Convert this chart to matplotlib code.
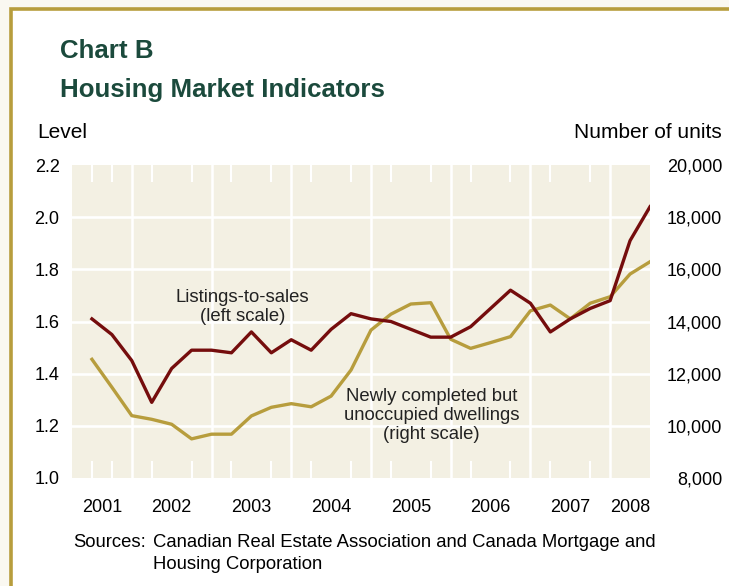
import numpy as np
import matplotlib
matplotlib.use("Agg")
import matplotlib.pyplot as plt
from matplotlib.patches import Rectangle

plt.rcParams['font.family'] = ['Liberation Sans', 'DejaVu Sans']

# quarterly data, 2001Q2 .. 2008Q2 (plotted at quarter end)
quarters = np.arange(2001.5, 2008.51, 0.25)
listings_to_sales = [1.61, 1.55, 1.45, 1.29, 1.42, 1.49, 1.49, 1.48, 1.56, 1.48,
                     1.53, 1.49, 1.57, 1.63, 1.61, 1.60, 1.57, 1.54, 1.54, 1.58,
                     1.65, 1.72, 1.67, 1.56, 1.61, 1.65, 1.68, 1.91, 2.04]
unoccupied = [12550, 11480, 10390, 10250, 10060, 9500, 9680, 9680, 10380, 10710,
              10850, 10730, 11140, 12140, 13670, 14280, 14670, 14720, 13320, 12970,
              13190, 13420, 14410, 14630, 14100, 14700, 14950, 15820, 16290]

years = ['2001', '2002', '2003', '2004', '2005', '2006', '2007', '2008']
year_pos = [2001.625, 2002.5, 2003.5, 2004.5, 2005.5, 2006.5, 2007.5, 2008.25]
left_ticks = [1.0, 1.2, 1.4, 1.6, 1.8, 2.0, 2.2]
right_ticks = [8000, 10000, 12000, 14000, 16000, 18000, 20000]

W, H = 729, 586
RED = '#750d0d'
GOLD = '#b79d3d'
GREEN = '#1b4a3c'
BG = '#f3f0e3'

fig = plt.figure(figsize=(W / 100, H / 100), dpi=100)
fig.patch.set_facecolor('#faf8f1')

def px(x, y):
    return x / W, 1 - y / H

# framed white panel with gold border on top and left
fig.patches.append(Rectangle(px(11, 700), 800 / W, 691 / H, transform=fig.transFigure,
                             facecolor='white', edgecolor=GOLD, linewidth=2.6, zorder=-5))

rect = [72 / W, 1 - 478 / H, 578 / W, 313 / H]

# base axes: background, grid, ticks, labels
ax = fig.add_axes(rect, zorder=1)
ax.set_facecolor(BG)
for s in ax.spines.values():
    s.set_visible(False)
ax.set_xlim(2001.25, 2008.5)
ax.set_ylim(1.0, 2.2)

for yr in range(2002, 2009):
    ax.axvline(yr, color='white', lw=1.8, zorder=1)
for v in left_ticks[1:-1]:
    ax.axhline(v, color='white', lw=1.9, zorder=1)

qt = [q for q in np.arange(2001.5, 2008.5, 0.25) if q % 1 != 0]
ax.set_xticks(qt, minor=True)
ax.tick_params(axis='x', which='minor', direction='in', length=12, width=1.5,
               color='white', top=True, bottom=True)
ax.set_xticks(year_pos)
ax.set_xticklabels(years)
ax.tick_params(axis='x', which='major', length=0, pad=15, labelsize=13)

ax.set_yticks(left_ticks)
ax.set_yticklabels([f'{v:.1f}' for v in left_ticks])
ax.tick_params(axis='y', length=0, pad=9, labelsize=13)

# right scale: newly completed unoccupied dwellings
ax2 = ax.twinx()
ax2.set_zorder(2)
ax2.patch.set_visible(False)
for s in ax2.spines.values():
    s.set_visible(False)
ax2.set_ylim(8000, 20000)
ax2.plot(quarters, unoccupied, color=GOLD, lw=2.4)
ax2.set_yticks(right_ticks)
ax2.set_yticklabels([f'{v:,}' for v in right_ticks])
ax2.tick_params(axis='y', length=0, pad=52, labelsize=13)
for lbl in ax2.get_yticklabels():
    lbl.set_horizontalalignment('right')

# left scale line on top
ax3 = ax.twinx()
ax3.set_zorder(3)
ax3.patch.set_visible(False)
for s in ax3.spines.values():
    s.set_visible(False)
ax3.set_ylim(1.0, 2.2)
ax3.set_yticks([])
ax3.plot(quarters, listings_to_sales, color=RED, lw=2.4)

ax3.text(2003.39, 1.656, 'Listings-to-sales\n(left scale)', ha='center', va='center',
         fontsize=13.3, color='#222222', linespacing=1.15)
ax3.text(2005.76, 1.238, 'Newly completed but\nunoccupied dwellings\n(right scale)',
         ha='center', va='center', fontsize=13.3, color='#222222', linespacing=1.15)

fig.text(*px(60, 58), 'Chart B', fontsize=18.6, fontweight='bold', color=GREEN, va='baseline')
fig.text(*px(60, 97), 'Housing Market Indicators', fontsize=18.6, fontweight='bold',
         color=GREEN, va='baseline')
fig.text(*px(37, 138), 'Level', fontsize=15, va='baseline')
fig.text(*px(722, 138), 'Number of units', fontsize=15, va='baseline', ha='right')
fig.text(*px(73, 547), 'Sources:', fontsize=13.3, va='baseline')
fig.text(*px(153, 547), 'Canadian Real Estate Association and Canada Mortgage and',
         fontsize=13.3, va='baseline')
fig.text(*px(153, 569), 'Housing Corporation', fontsize=13.3, va='baseline')

fig.savefig('out.png', dpi=100, facecolor=fig.get_facecolor())
